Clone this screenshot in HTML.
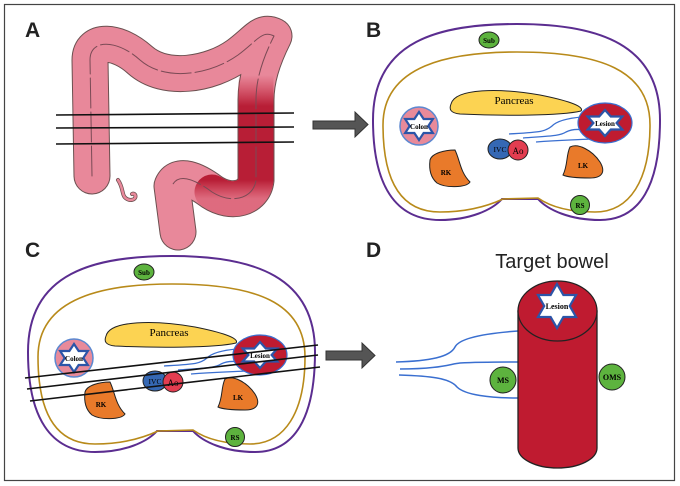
<!DOCTYPE html>
<html><head><meta charset="utf-8"><style>
html,body{margin:0;padding:0;background:#fff;}
svg{display:block;font-family:"Liberation Serif",serif;}
</style></head><body>
<svg width="680" height="486" viewBox="0 0 680 486" xmlns="http://www.w3.org/2000/svg">
<defs>
<polygon id="star" points="0,-1 0.29,-0.5 0.866,-0.5 0.58,0 0.866,0.5 0.29,0.5 0,1 -0.29,0.5 -0.866,0.5 -0.58,0 -0.866,-0.5 -0.29,-0.5" fill="#fff" stroke="#2c55a8" stroke-width="2.2" vector-effect="non-scaling-stroke"/>
<linearGradient id="rg" x1="0" y1="0" x2="0" y2="1">
<stop offset="0" stop-color="#c5283f" stop-opacity="0"/>
<stop offset="0.25" stop-color="#b81e36"/>
<stop offset="0.85" stop-color="#b81e36"/>
<stop offset="1" stop-color="#c5283f" stop-opacity="0.3"/>
</linearGradient>
<g id="body">
<path d="M373,120 C373,40 440,24 517,24 C600,24 660,45 660,120 C660,185 640,220 600,220 C570,220 548,210 538,199 L502,199 C492,210 470,220 440,220 C395,220 373,185 373,120Z" fill="none" stroke="#5b2d90" stroke-width="2"/>
<path d="M383,125 C383,65 450,52 517,52 C600,52 650,70 650,125 C650,180 630,212 595,212 C565,212 548,205 538,198 L503,199 C490,205 470,212 440,212 C400,212 383,180 383,125Z" fill="none" stroke="#b88a1a" stroke-width="1.6"/>
<ellipse cx="489" cy="40" rx="10" ry="8" fill="#5db33e" stroke="#222" stroke-width="1"/>
<text x="489" y="43" font-size="7" font-weight="bold" text-anchor="middle">Sub</text>
<path d="M451,104 C455,88 500,88 540,95 C565,100 585,106 581,111 C560,116 500,116 460,114 C450,113 449,109 451,104Z" fill="#fcd352" stroke="#222" stroke-width="1"/>
<text x="514" y="104" font-size="11" text-anchor="middle">Pancreas</text>
<circle cx="419" cy="126" r="19" fill="#e88a9a" stroke="#5c88d0" stroke-width="1.5"/>
<use href="#star" transform="translate(419,126) scale(16,14)"/>
<text x="419" y="129" font-size="7" font-weight="bold" text-anchor="middle">Colon</text>
<path d="M509,134 C540,132 545,132 552,126 C558,120 570,118 582,117" fill="none" stroke="#3a6fd0" stroke-width="1.3"/>
<path d="M523,138 C550,136 560,136 566,132 C572,129 578,129 584,130" fill="none" stroke="#3a6fd0" stroke-width="1.3"/>
<path d="M536,142 C560,140 575,140 590,139" fill="none" stroke="#3a6fd0" stroke-width="1.3"/>
<ellipse cx="605" cy="123" rx="27" ry="20" fill="#bf1b30" stroke="#3a6fd0" stroke-width="1.2"/>
<use href="#star" transform="translate(605,123) scale(20,13)"/>
<text x="605" y="126" font-size="7" font-weight="bold" text-anchor="middle">Lesion</text>
<ellipse cx="500" cy="149" rx="12" ry="10" fill="#3568b4" stroke="#222" stroke-width="1"/>
<text x="500" y="152" font-size="7.5" text-anchor="middle">IVC</text>
<circle cx="518" cy="150" r="10" fill="#e33d50" stroke="#222" stroke-width="1"/>
<text x="518" y="154" font-size="9" text-anchor="middle">Ao</text>
<path d="M430,160 C432,153 445,150 455,150 C460,160 460,172 470,182 C466,188 445,188 437,183 C430,177 429,168 430,160Z" fill="#e97a2a" stroke="#222" stroke-width="1"/>
<text x="446" y="175" font-size="7" font-weight="bold" text-anchor="middle">RK</text>
<path d="M570,147 C578,143 592,150 600,162 C606,172 602,178 590,178 C578,178 567,177 563,175 C568,165 566,155 570,147Z" fill="#e97a2a" stroke="#222" stroke-width="1"/>
<text x="583" y="168" font-size="7" font-weight="bold" text-anchor="middle">LK</text>
<circle cx="580" cy="205" r="9.5" fill="#5db33e" stroke="#222" stroke-width="1"/>
<text x="580" y="208" font-size="7" font-weight="bold" text-anchor="middle">RS</text>
</g>
</defs>
<rect x="4.5" y="4.5" width="670" height="476" fill="none" stroke="#444" stroke-width="1.2"/>
<g font-family="Liberation Sans,sans-serif" font-weight="bold" font-size="21" fill="#222">
<text x="25" y="37">A</text><text x="366" y="37">B</text>
<text x="25" y="257">C</text><text x="366" y="257">D</text>
</g>
<!-- Panel A colon -->
<g fill="none" stroke-linecap="round" stroke-linejoin="round">
<path id="col" d="M92,176 L90,60 C90,38 118,40 140,60 C165,82 210,75 238,55 C258,40 262,30 274,36 C262,60 256,80 256,100 L256,180 C254,198 232,205 212,192 C196,180 178,172 172,186 L178,232" stroke="#6b5050" stroke-width="37"/>
<path d="M92,176 L90,60 C90,38 118,40 140,60 C165,82 210,75 238,55 C258,40 262,30 274,36 C262,60 256,80 256,100 L256,180 C254,198 232,205 212,192 C196,180 178,172 172,186 L178,232" stroke="#e8889a" stroke-width="35"/>
<path d="M256,75 L256,100 L256,180 C254,198 232,205 212,192" stroke="url(#rg)" stroke-width="35"/>
<path d="M92,176 L90,60 C90,38 118,40 140,60 C165,82 210,75 238,55 C258,40 262,30 274,36 C262,60 256,80 256,100 L256,180 C254,198 232,205 212,192 C196,180 178,172 172,186" stroke="#7a4a55" stroke-width="1" stroke-dasharray="30,4"/>
<path d="M118,180 C125,190 120,198 130,200 C138,200 136,192 132,194" stroke="#6b5050" stroke-width="4"/>
<path d="M118,180 C125,190 120,198 130,200 C138,200 136,192 132,194" stroke="#e8889a" stroke-width="2.5"/>
</g>
<g stroke="#111" stroke-width="1.6">
<line x1="56" y1="115" x2="294" y2="113"/>
<line x1="56" y1="128" x2="294" y2="127"/>
<line x1="56" y1="144" x2="294" y2="142"/>
</g>
<!-- arrows -->
<path d="M313,121 L355,121 L355,112 L368,124.5 L355,137 L355,129 L313,129Z" fill="#555" stroke="#333" stroke-width="1"/>
<path d="M326,351 L362,351 L362,343 L375,355.5 L362,368 L362,360 L326,360Z" fill="#555" stroke="#333" stroke-width="1"/>
<use href="#body"/>
<use href="#body" transform="translate(-345,232)"/>
<g stroke="#111" stroke-width="1.6">
<line x1="25" y1="378" x2="318" y2="345"/>
<line x1="27" y1="389" x2="318" y2="355"/>
<line x1="30" y1="401" x2="320" y2="367"/>
</g>
<!-- Panel D -->
<text x="552" y="268" font-family="Liberation Sans,sans-serif" font-size="20" text-anchor="middle" fill="#222">Target bowel</text>
<path d="M396,362 C430,361 450,357 455,347 C460,337 490,333 518,331" fill="none" stroke="#3a6fd0" stroke-width="1.5"/>
<path d="M400,369 C440,369 450,364 460,363 C480,362 500,362 518,362" fill="none" stroke="#3a6fd0" stroke-width="1.5"/>
<path d="M399,375 C430,376 450,378 457,387 C465,395 490,398 518,398" fill="none" stroke="#3a6fd0" stroke-width="1.5"/>
<path d="M518,311 L518,448 A39.5,20 0 0 0 597,448 L597,311Z" fill="#bf1b30" stroke="#222" stroke-width="1.3"/>
<ellipse cx="557.5" cy="311" rx="39.5" ry="30" fill="#bf1b30" stroke="#222" stroke-width="1.3"/>
<use href="#star" transform="translate(557,306) scale(22,22)"/>
<text x="557" y="309" font-size="8" font-weight="bold" text-anchor="middle">Lesion</text>
<circle cx="503" cy="380" r="13" fill="#5db33e" stroke="#222" stroke-width="1"/>
<text x="503" y="383" font-size="8" font-weight="bold" text-anchor="middle">MS</text>
<circle cx="612" cy="377" r="13" fill="#5db33e" stroke="#222" stroke-width="1"/>
<text x="612" y="380" font-size="8" font-weight="bold" text-anchor="middle">OMS</text>
</svg>
</body></html>
